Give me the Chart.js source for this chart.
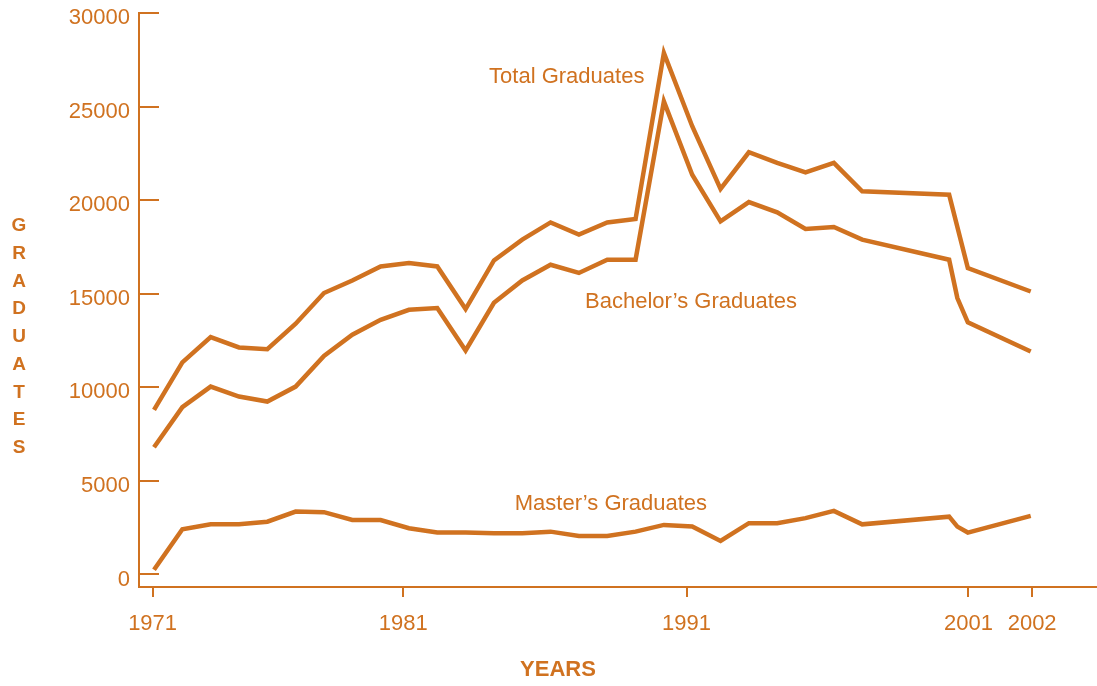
<!DOCTYPE html>
<html>
<head>
<meta charset="utf-8">
<title>Graduates 1971-2002</title>
<script src="https://cdn.jsdelivr.net/npm/chart.js@4.4.1/dist/chart.umd.min.js"></script>
<style>
  html, body { margin: 0; padding: 0; background: #fff; }
  #wrap { width: 1097px; height: 686px; position: relative; }
</style>
</head>
<body>
<div id="wrap"><canvas id="myChart"></canvas></div>
<script>
// x of every reading, in years (the drawing is not evenly spaced after 1996)
var years = [1971, 1972, 1973, 1974, 1975, 1976, 1977, 1978, 1979, 1980,
             1981, 1982, 1983, 1984, 1985, 1986, 1987, 1988, 1989, 1990,
             1991, 1992, 1993, 1994, 1995, 1996, 1999.07, 1999.36, 1999.73, 2001.95];

var totalGrads = [8800, 11330, 12680, 12130, 12040, 13400, 15040, 15710, 16460, 16640,
                  16460, 14180, 16780, 17890, 18810, 18160, 18810, 18990, 27870, 23950,
                  20600, 22560, 21990, 21490, 21990, 20470, 20290, null, 16370, 15120];

var bachelorGrads = [6800, 8940, 10040, 9510, 9240, 10040, 11680, 12810, 13610, 14140,
                     14240, 11970, 14520, 15710, 16550, 16110, 16820, 16820, 25280, 21360,
                     18870, 19900, 19350, 18460, 18570, 17890, 16820, 14770, 13470, 11910];

var masterGrads = [250, 2420, 2680, 2680, 2820, 3360, 3330, 2910, 2910, 2470,
                   2240, 2240, 2200, 2200, 2290, 2060, 2060, 2290, 2650, 2560,
                   1790, 2740, 2740, 3010, 3400, 2680, 3090, 2560, 2240, 3130];

// tick marks as they sit on the printed axis
var xTickValues = [1970.95, 1979.8, 1989.8, 1999.75, 2002];
var xTickLabels = ['1971', '1981', '1991', '2001', '2002'];
var yTickValues = [0, 5000, 10000, 15000, 20000, 25000, 30000];

var seriesNames = ['Total Graduates', 'Bachelor\u2019s Graduates', 'Master\u2019s Graduates'];
// where each series name is written, in chart values
var nameAt = [
    {x: 1985.57, y: 26270},
    {x: 1989.96, y: 14235},
    {x: 1987.13, y: 3450}
];

var orange = 'rgb(208, 114, 32)';
var fontFamily = '"Liberation Sans", Arial, Helvetica, sans-serif';

Chart.defaults.font.family = fontFamily;
Chart.defaults.color = orange;

function points(ys) {
    return years.map(function(x, i){ return {x: x, y: ys[i]}; });
}

function lineSet(name, ys) {
    return {
        label: name,
        data: points(ys),
        borderColor: orange,
        backgroundColor: orange,
        borderWidth: 4.5,
        pointRadius: 0,
        tension: 0,
        fill: false,
        spanGaps: true
    };
}

var textPlugin = {
    id: 'chartText',
    afterDraw: function(chart){
        var ctx = chart.ctx;
        var xs = chart.scales.x, ys = chart.scales.y;
        ctx.save();
        ctx.fillStyle = orange;

        // series names
        ctx.font = '22px ' + fontFamily;
        ctx.textAlign = 'center';
        ctx.textBaseline = 'alphabetic';
        for (var i = 0; i < seriesNames.length; i++) {
            ctx.fillText(seriesNames[i], xs.getPixelForValue(nameAt[i].x), ys.getPixelForValue(nameAt[i].y));
        }

        // y title, one letter per line
        ctx.font = 'bold 19px ' + fontFamily;
        ctx.textBaseline = 'middle';
        var letters = 'GRADUATES'.split('');
        for (var k = 0; k < letters.length; k++) {
            ctx.fillText(letters[k], 19, 226 + k * 27.75);
        }

        // x title
        ctx.font = 'bold 22px ' + fontFamily;
        ctx.fillText('YEARS', 558, 670);
        ctx.restore();
    }
};

var ctx = document.getElementById('myChart').getContext('2d');
var myChart = new Chart(ctx, {
    type: 'line',
    data: {
        datasets: [
            lineSet(seriesNames[0], totalGrads),
            lineSet(seriesNames[1], bachelorGrads),
            lineSet(seriesNames[2], masterGrads)
        ]
    },
    options: {
        responsive: true,
        maintainAspectRatio: false,
        animation: false,
        layout: { padding: { top: 13, right: 0, bottom: 0, left: 0 } },
        plugins: {
            legend: { display: false },
            tooltip: { enabled: false }
        },
        scales: {
            x: {
                type: 'linear',
                min: 1970.47,
                max: 2004.29,
                afterBuildTicks: function(scale){
                    scale.ticks = xTickValues.map(function(v){ return {value: v}; });
                },
                afterFit: function(scale){
                    scale.height = 99;
                    scale.paddingLeft = 0;
                    scale.paddingRight = 0;
                },
                border: { display: true, color: orange, width: 2 },
                grid: {
                    drawOnChartArea: false,
                    drawTicks: true,
                    tickLength: 10,
                    color: orange,
                    lineWidth: 2
                },
                ticks: {
                    autoSkip: false,
                    maxRotation: 0,
                    padding: 14,
                    color: orange,
                    font: { size: 22 },
                    callback: function(value, index){ return xTickLabels[index]; }
                }
            },
            y: {
                type: 'linear',
                min: -668,
                max: 30000,
                afterBuildTicks: function(scale){
                    scale.ticks = yTickValues.map(function(v){ return {value: v}; });
                },
                afterFit: function(scale){
                    scale.width = 139;
                    scale.paddingTop = 0;
                    scale.paddingBottom = 0;
                },
                border: { display: true, color: orange, width: 2 },
                grid: {
                    drawOnChartArea: false,
                    drawTicks: true,
                    tickLength: -20,
                    color: orange,
                    lineWidth: 2
                },
                ticks: {
                    padding: 29,
                    labelOffset: 5,
                    color: orange,
                    font: { size: 22 },
                    callback: function(value){ return String(value); }
                }
            }
        }
    },
    plugins: [textPlugin]
});
</script>
</body>
</html>
